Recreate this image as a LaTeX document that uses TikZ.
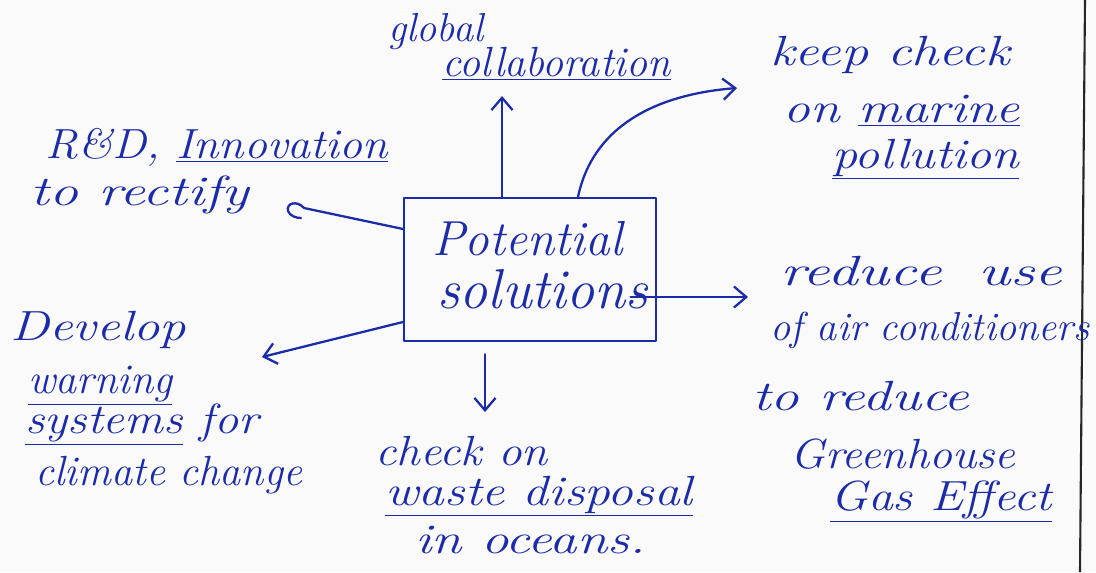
\documentclass[tikz,border=0pt]{standalone}
\usetikzlibrary{arrows.meta}
\definecolor{ink}{RGB}{28,44,168}
\definecolor{paper}{RGB}{250,250,250}
% horizontal stretch of a handwritten-looking line
\newcommand\stretchx[2]{\scalebox{#1}[1]{#2}}
\begin{document}
\begin{tikzpicture}[x=0.02cm,y=-0.02cm,
  ink line/.style={draw=ink,line width=1.3pt,line cap=round,line join=round},
  tip/.style={-{Straight Barb[length=7pt,width=12pt,line width=1.3pt]}},
  note/.style={text=ink,inner sep=0pt,anchor=base west,font=\fontsize{24}{28}\selectfont\itshape},
  big/.style={text=ink,inner sep=0pt,anchor=base west,font=\fontsize{28}{34}\selectfont\itshape}]
\useasboundingbox[fill=paper] (0,0) rectangle (1096,572);
% margin rule on the right
\draw[black!85,line width=1.2pt] (1085,0) -- (1080,572);

% central box
\node[ink line,minimum width=252*0.02cm,minimum height=143*0.02cm,anchor=north west] (box) at (403,197) {};
\node[big] (pot) at (432,255) {Potential};
\node[big,font=\fontsize{32}{38}\selectfont\itshape] (sol) at (437,308) {solutions};

% top
\node[note,font=\fontsize{23}{28}\selectfont\itshape] (glob) at (388,41) {global};
\node[note] (coll) at (442,76) {\underline{collaboration}};
% top right
\node[note] (keep) at (770,65) {\stretchx{1.29}{keep check}};
\node[note] (on) at (783,122) {\stretchx{1.27}{on \underline{marine}}};
\node[note] (poll) at (832,168) {\stretchx{1.19}{\underline{pollution}}};
% left
\node[note] (rd) at (45,158) {\stretchx{1.09}{R\&D, \underline{Innovation}}};
\node[note] (rect) at (30,205) {\stretchx{1.37}{to rectify}};
% right
\node[note] (red) at (780,285) {\stretchx{1.45}{reduce\hspace{0.6em}use}};
\node[note,font=\fontsize{23}{28}\selectfont\itshape] (air) at (770,340) {of air conditioners};
\node[note] (tored) at (752,410) {\stretchx{1.35}{to reduce}};
\node[note] (green) at (790,468) {\stretchx{1.09}{Greenhouse}};
\node[note] (gas) at (830,510) {\stretchx{1.18}{\underline{Gas Effect}}};
% lower left
\node[note] (dev) at (10,340) {\stretchx{1.25}{Develop}};
\node[note] (warn) at (28,393) {\underline{warning}};
\node[note] (sys) at (25,433) {\stretchx{1.15}{\underline{systems} for}};
\node[note] (clim) at (35,485) {climate change};
% bottom
\node[note] (chk) at (375,465) {\stretchx{1.12}{check on}};
\node[note] (waste) at (385,505) {\stretchx{1.22}{\underline{waste disposal}}};
\node[note] (ocean) at (415,553) {\stretchx{1.3}{in oceans.}};

% free ends of the connectors
\coordinate (gtip) at (502,96);
\coordinate (ktip) at (737,88);
\coordinate (rtip) at (304,208);
\coordinate (dtip) at (262,357);
\coordinate (btip) at (485,412);
\coordinate (etip) at (748,297);

\draw[ink line,tip] (box.north -| gtip) -- (gtip);
\draw[ink line,tip] (578,197) .. controls (592,130) and (650,95) .. (ktip);
\draw[ink line] (box.west |- 0,229) -- (rtip)
  .. controls (297,200) and (286,203) .. (288,211)
  .. controls (290,216) and (296,218) .. (301,218);
\draw[ink line,tip] (box.west |- 0,322) -- (dtip);
\draw[ink line,tip] (box.south -| btip) ++(0,12) -- (btip);
\draw[ink line,tip] ([shift={(-18,-11)}]sol.base east) -- (etip);
\end{tikzpicture}
\end{document}
